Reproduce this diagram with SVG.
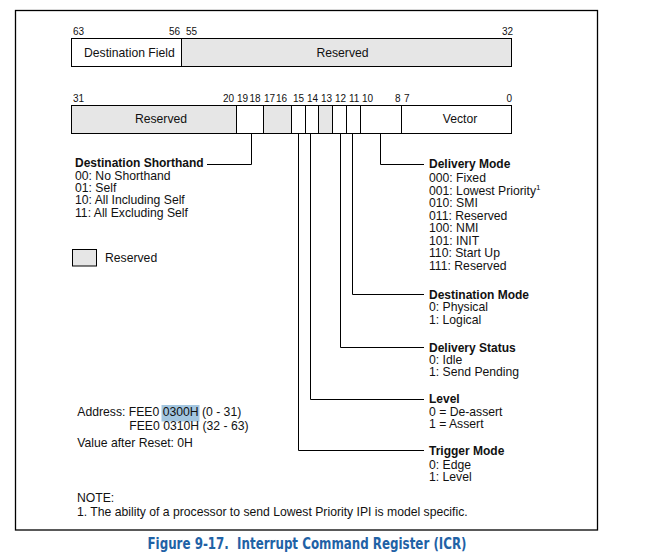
<svg xmlns="http://www.w3.org/2000/svg" width="664" height="560" viewBox="0 0 664 560">
<style>
text{font-family:"Liberation Sans",Arial,sans-serif;font-size:12.2px;fill:#111}
.b{font-weight:bold;font-size:12px}
.n{font-size:10px}
.m{text-anchor:middle}
.e{text-anchor:end}
.cell{stroke:#000;stroke-width:1;fill:#fff}
.g{fill:#e6e6e6}
.ln{fill:none;stroke:#000;stroke-width:1}
.cap{font-family:"DejaVu Sans Condensed","Noto Sans",sans-serif;font-size:16px;font-weight:600;fill:#1f62a6;white-space:pre}
</style>
<rect width="664" height="560" fill="#fff"/>
<g id="frame"><rect x="15.5" y="10.5" width="582" height="519.5" fill="none" stroke="#000" stroke-width="1.3"/></g>

<g id="register-high">
<rect class="cell" x="71.5" y="38.5" width="110" height="28"/>
<rect class="cell g" x="181.5" y="38.5" width="330" height="28"/>
<text class="n" x="73" y="35">63</text>
<text class="n e" x="180" y="35">56</text>
<text class="n" x="186" y="35">55</text>
<text class="n e" x="513" y="35">32</text>
<text x="84" y="57">Destination Field</text>
<text class="m" x="342.5" y="57">Reserved</text>
</g>

<g id="register-low">
<rect class="cell g" x="71.5" y="105.5" width="165" height="28"/>
<rect class="cell" x="236.5" y="105.5" width="27" height="28"/>
<rect class="cell g" x="263.5" y="105.5" width="28" height="28"/>
<rect class="cell" x="291.5" y="105.5" width="14" height="28"/>
<rect class="cell" x="305.5" y="105.5" width="13" height="28"/>
<rect class="cell g" x="318.5" y="105.5" width="14" height="28"/>
<rect class="cell" x="332.5" y="105.5" width="14" height="28"/>
<rect class="cell" x="346.5" y="105.5" width="14" height="28"/>
<rect class="cell" x="360.5" y="105.5" width="41" height="28"/>
<rect class="cell" x="401.5" y="105.5" width="110" height="28"/>
<text class="n" x="73" y="102">31</text>
<text class="n e" x="234" y="102">20</text>
<text class="n" x="237" y="102">19</text>
<text class="n" x="249.5" y="102">18</text>
<text class="n" x="264" y="102">17</text>
<text class="n" x="276" y="102">16</text>
<text class="n" x="293" y="102">15</text>
<text class="n" x="307" y="102">14</text>
<text class="n" x="321" y="102">13</text>
<text class="n" x="335" y="102">12</text>
<text class="n" x="349" y="102">11</text>
<text class="n" x="362" y="102">10</text>
<text class="n" x="395" y="102">8</text>
<text class="n" x="404" y="102">7</text>
<text class="n e" x="512" y="102">0</text>
<text class="m" x="161" y="122.5">Reserved</text>
<text class="m" x="460" y="122.5">Vector</text>
</g>

<g id="connectors">
<polyline class="ln" points="251.5,133.5 251.5,164.5 207,164.5"/>
<polyline class="ln" points="380.5,133.5 380.5,164.5 424,164.5"/>
<polyline class="ln" points="352.5,133.5 352.5,294.5 424,294.5"/>
<polyline class="ln" points="340.5,133.5 340.5,347.5 424,347.5"/>
<polyline class="ln" points="310.5,133.5 310.5,399.5 424,399.5"/>
<polyline class="ln" points="298.5,133.5 298.5,450.5 424,450.5"/>
</g>

<g id="destination-shorthand">
<text class="b" x="75" y="167">Destination Shorthand</text>
<text x="75" y="180">00: No Shorthand</text>
<text x="75" y="192">01: Self</text>
<text x="75" y="204">10: All Including Self</text>
<text x="75" y="216.5">11: All Excluding Self</text>
</g>

<g id="legend">
<rect class="cell g" x="72.5" y="249.5" width="24" height="16.5"/>
<text x="105" y="262">Reserved</text>
</g>

<g id="delivery-mode">
<text class="b" x="429" y="167.5">Delivery Mode</text>
<text x="429" y="182">000: Fixed</text>
<text x="429" y="194.5">001: Lowest Priority<tspan font-size="8" dy="-5">1</tspan></text>
<text x="429" y="207">010: SMI</text>
<text x="429" y="219.5">011: Reserved</text>
<text x="429" y="232">100: NMI</text>
<text x="429" y="244.5">101: INIT</text>
<text x="429" y="257">110: Start Up</text>
<text x="429" y="269.5">111: Reserved</text>
</g>

<g id="destination-mode">
<text class="b" x="429" y="298.5">Destination Mode</text>
<text x="429" y="311">0: Physical</text>
<text x="429" y="323.5">1: Logical</text>
</g>

<g id="delivery-status">
<text class="b" x="429" y="352">Delivery Status</text>
<text x="429" y="364">0: Idle</text>
<text x="429" y="376">1: Send Pending</text>
</g>

<g id="level">
<text class="b" x="429" y="403">Level</text>
<text x="429" y="415.5">0 = De-assert</text>
<text x="429" y="428">1 = Assert</text>
</g>

<g id="trigger-mode">
<text class="b" x="429" y="455">Trigger Mode</text>
<text x="429" y="468.5">0: Edge</text>
<text x="429" y="480.5">1: Level</text>
</g>

<g id="address">
<rect x="161.5" y="405" width="38" height="16.5" fill="#a3c6e0"/>
<text x="77.3" y="415.5">Address: FEE0 0300H (0 - 31)</text>
<text x="129.3" y="430">FEE0 0310H (32 - 63)</text>
<text x="77.3" y="447">Value after Reset: 0H</text>
</g>

<g id="note">
<text x="77" y="502">NOTE:</text>
<text x="77" y="515.5">1. The ability of a processor to send Lowest Priority IPI is model specific.</text>
</g>

<g id="caption">
<text class="cap m" x="307" y="548.5" xml:space="preserve" textLength="319" lengthAdjust="spacingAndGlyphs">Figure 9-17.  Interrupt Command Register (ICR)</text>
</g>
</svg>
